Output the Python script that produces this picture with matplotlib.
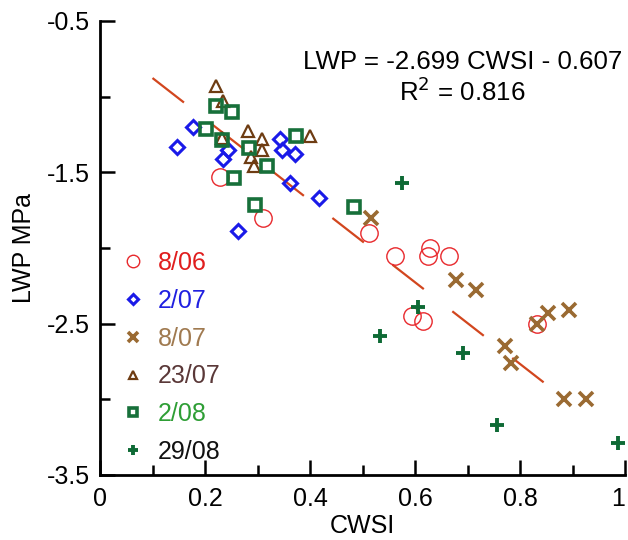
import matplotlib
matplotlib.use("Agg")
import matplotlib.pyplot as plt
import numpy as np
from matplotlib.ticker import FixedLocator

plt.rcParams['font.family'] = ['Liberation Sans', 'DejaVu Sans']

# ---- data ----
labels = ["8/06", "2/07", "8/07", "23/07", "2/08", "29/08"]

x_0806 = [0.229, 0.311, 0.512, 0.561, 0.629, 0.624, 0.664, 0.595, 0.616, 0.833]
y_0806 = [-1.53, -1.80, -1.90, -2.05, -2.00, -2.05, -2.05, -2.45, -2.48, -2.50]

x_0207 = [0.146, 0.177, 0.243, 0.235, 0.342, 0.347, 0.371, 0.362, 0.417, 0.262]
y_0207 = [-1.33, -1.20, -1.35, -1.41, -1.28, -1.35, -1.38, -1.57, -1.67, -1.89]

x_0807 = [0.516, 0.679, 0.717, 0.854, 0.894, 0.833, 0.771, 0.783, 0.884, 0.926]
y_0807 = [-1.80, -2.21, -2.28, -2.43, -2.41, -2.50, -2.65, -2.76, -3.00, -3.00]

x_2307 = [0.220, 0.235, 0.281, 0.233, 0.308, 0.400, 0.308, 0.288, 0.294]
y_2307 = [-0.93, -1.03, -1.225, -1.27, -1.28, -1.26, -1.35, -1.40, -1.455]

x_0208 = [0.220, 0.251, 0.202, 0.232, 0.284, 0.373, 0.319, 0.255, 0.295, 0.483]
y_0208 = [-1.06, -1.10, -1.214, -1.287, -1.341, -1.258, -1.458, -1.54, -1.718, -1.731]

x_2908 = [0.576, 0.606, 0.533, 0.691, 0.757, 0.987]
y_2908 = [-1.568, -2.388, -2.582, -2.696, -3.17, -3.29]

slope, intercept = -2.699, -0.607
fit_x = [0.10, 0.845]

x_ticks = [0, 0.2, 0.4, 0.6, 0.8, 1.0]
x_ticklabels = ["0", "0.2", "0.4", "0.6", "0.8", "1"]
y_ticks = [-0.5, -1.5, -2.5, -3.5]
y_ticklabels = ["-0.5", "-1.5", "-2.5", "-3.5"]

# ---- figure ----
FS = 18
fig = plt.figure(figsize=(6.28, 5.40), dpi=100)
ax = fig.add_axes([100/628, 65/540, 525/628, 454/540])

fx = np.array(fit_x)
ax.plot(fx, slope*fx + intercept, color="#D2461E", lw=1.6,
        linestyle=(0, (28.7/1.6, 26/1.6)), zorder=1)

h1, = ax.plot(x_0806, y_0806, ls='none', marker='o', ms=12.5, mfc='none',
              mec='#E8282C', mew=1.0, zorder=3)
h2, = ax.plot(x_0207, y_0207, ls='none', marker='D', ms=7.6, mfc='none',
              mec='#1A1AE8', mew=2.2, zorder=3)
h3, = ax.plot(x_0807, y_0807, ls='none', marker='x', ms=9.5, mfc='none',
              mec='#9A6A32', mew=2.6, zorder=3)
h4, = ax.plot(x_2307, y_2307, ls='none', marker='^', ms=8.5, mfc='none',
              mec='#6E3C12', mew=1.6, zorder=3)
h5, = ax.plot(x_0208, y_0208, ls='none', marker='s', ms=8.3, mfc='none',
              mec='#17703A', mew=2.6, zorder=3)
h6, = ax.plot(x_2908, y_2908, ls='none', marker='+', ms=9.5,
              mec='#0E6A35', mew=2.8, zorder=3)

ax.set_xlim(0, 1)
ax.set_ylim(-3.5, -0.5)
for s in ['top', 'right']:
    ax.spines[s].set_visible(False)
for s in ['left', 'bottom']:
    ax.spines[s].set_linewidth(2.0)

ax.set_xticks(x_ticks)
ax.set_xticklabels(x_ticklabels)
ax.set_yticks(y_ticks)
ax.set_yticklabels(y_ticklabels)
ax.xaxis.set_minor_locator(FixedLocator([0.1, 0.3, 0.5, 0.7, 0.9]))
ax.yaxis.set_minor_locator(FixedLocator([-1.0, -2.0, -3.0]))
ax.tick_params(which='major', direction='in', length=11, width=1.8,
               labelsize=FS, pad=7)
ax.tick_params(axis='x', which='major', pad=8.5)
ax.tick_params(which='minor', direction='in', length=7, width=1.8)
ax.get_xticklabels()[-1].set_horizontalalignment('right')

ax.set_xlabel("CWSI", fontsize=FS, labelpad=2)
ax.set_ylabel("LWP MPa", fontsize=FS, labelpad=8)

ax.text(0.995, 0.91, "LWP = -2.699 CWSI - 0.607", transform=ax.transAxes,
        ha='right', va='center', fontsize=18.6)
ax.text(0.69, 0.845, "R$^{2}$ = 0.816", transform=ax.transAxes,
        ha='center', va='center', fontsize=18.6)

leg = ax.legend([h1, h2, h3, h4, h5, h6], labels, loc='upper left',
                bbox_to_anchor=(0.02, 0.515), frameon=False, fontsize=FS,
                markerscale=0.72, handlelength=1.0, handletextpad=0.5,
                labelspacing=0.55, borderaxespad=0,
                labelcolor=['#E01E1E', '#2020E0', '#A07A50', '#5A3838',
                            '#2E9E35', '#111111'])

fig.savefig("out.png", dpi=100)
